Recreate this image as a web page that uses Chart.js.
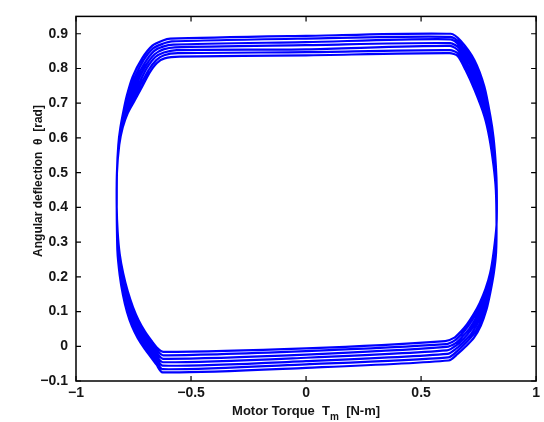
<!DOCTYPE html>
<html>
<head>
<meta charset="utf-8">
<script src="https://cdn.jsdelivr.net/npm/chart.js@4/dist/chart.umd.min.js"></script>
<style>
  html, body { margin: 0; padding: 0; background: #ffffff; }
  canvas { display: block; }
</style>
</head>
<body>
<canvas id="c" width="544" height="422"></canvas>
<script>
// Axis ticks and their printed labels
const xTicks = [-1, -0.5, 0, 0.5, 1];
const xTickLabels = ['\u22121', '\u22120.5', '0', '0.5', '1'];
const yTicks = [-0.1, 0, 0.1, 0.2, 0.3, 0.4, 0.5, 0.6, 0.7, 0.8, 0.9];
const yTickLabels = ['\u22120.1', '0', '0.1', '0.2', '0.3', '0.4', '0.5', '0.6', '0.7', '0.8', '0.9'];

// Successive cycles of the torque / deflection trajectory: [torque N-m, deflection rad]
const cycle1 = [[-0.823,0.40],[-0.822,0.50],[-0.816,0.58],[-0.807,0.63],[-0.793,0.680],[-0.779,0.722],[-0.754,0.776],[-0.712,0.830],[-0.668,0.866],[-0.625,0.880],[-0.590,0.886],[0,0.894],[0.629,0.900],[0.672,0.880],[0.732,0.824],[0.775,0.748],[0.801,0.663],[0.815,0.600],[0.825,0.520],[0.829,0.450],[0.828,0.350],[0.815,0.270],[0.800,0.210],[0.780,0.165],[0.755,0.125],[0.728,0.092],[0.700,0.064],[0.672,0.042],[0.645,0.025],[0.605,0.015],[0,-0.006],[-0.620,-0.016],[-0.645,-0.006],[-0.672,0.016],[-0.700,0.042],[-0.728,0.075],[-0.752,0.112],[-0.775,0.158],[-0.795,0.210],[-0.810,0.265],[-0.819,0.330]];
const cycle2 = [[-0.823,0.40],[-0.822,0.50],[-0.815,0.58],[-0.805,0.63],[-0.790,0.679],[-0.773,0.720],[-0.747,0.771],[-0.707,0.823],[-0.665,0.858],[-0.623,0.871],[-0.583,0.878],[0,0.886],[0.628,0.891],[0.670,0.872],[0.726,0.819],[0.768,0.746],[0.797,0.663],[0.812,0.600],[0.823,0.520],[0.828,0.450],[0.828,0.350],[0.817,0.270],[0.803,0.210],[0.784,0.163],[0.760,0.122],[0.733,0.087],[0.705,0.058],[0.676,0.035],[0.647,0.017],[0.608,0.006],[0,-0.014],[-0.621,-0.026],[-0.646,-0.014],[-0.673,0.009],[-0.701,0.034],[-0.729,0.067],[-0.753,0.103],[-0.776,0.148],[-0.795,0.200],[-0.810,0.255],[-0.819,0.321]];
const cycle3 = [[-0.823,0.40],[-0.822,0.50],[-0.815,0.58],[-0.804,0.63],[-0.787,0.677],[-0.768,0.717],[-0.740,0.767],[-0.701,0.816],[-0.661,0.850],[-0.622,0.863],[-0.577,0.869],[0,0.876],[0.627,0.884],[0.668,0.865],[0.719,0.815],[0.761,0.745],[0.792,0.663],[0.809,0.600],[0.822,0.520],[0.828,0.450],[0.828,0.350],[0.819,0.270],[0.805,0.210],[0.787,0.162],[0.765,0.118],[0.739,0.081],[0.710,0.051],[0.680,0.028],[0.650,0.009],[0.610,-0.002],[0,-0.024],[-0.621,-0.036],[-0.647,-0.022],[-0.674,0.001],[-0.702,0.027],[-0.729,0.058],[-0.754,0.094],[-0.776,0.138],[-0.795,0.189],[-0.810,0.245],[-0.819,0.312]];
const cycle4 = [[-0.823,0.40],[-0.822,0.50],[-0.814,0.58],[-0.802,0.63],[-0.784,0.676],[-0.762,0.715],[-0.733,0.762],[-0.696,0.809],[-0.658,0.841],[-0.620,0.855],[-0.570,0.861],[0,0.867],[0.627,0.873],[0.666,0.858],[0.713,0.810],[0.754,0.744],[0.788,0.663],[0.806,0.600],[0.820,0.520],[0.827,0.450],[0.828,0.350],[0.821,0.270],[0.808,0.210],[0.791,0.160],[0.770,0.115],[0.744,0.076],[0.715,0.045],[0.684,0.021],[0.652,0.002],[0.613,-0.012],[0,-0.033],[-0.622,-0.046],[-0.648,-0.030],[-0.675,-0.006],[-0.703,0.019],[-0.730,0.050],[-0.755,0.085],[-0.777,0.128],[-0.796,0.179],[-0.810,0.235],[-0.820,0.303]];
const cycle5 = [[-0.823,0.40],[-0.822,0.50],[-0.813,0.58],[-0.800,0.63],[-0.781,0.675],[-0.756,0.713],[-0.726,0.757],[-0.691,0.802],[-0.655,0.833],[-0.618,0.846],[-0.563,0.853],[0,0.855],[0.626,0.865],[0.663,0.851],[0.706,0.805],[0.746,0.742],[0.784,0.663],[0.803,0.600],[0.818,0.520],[0.826,0.450],[0.828,0.350],[0.822,0.270],[0.811,0.210],[0.794,0.158],[0.774,0.112],[0.749,0.071],[0.720,0.038],[0.687,0.014],[0.654,-0.006],[0.615,-0.022],[0,-0.043],[-0.623,-0.056],[-0.648,-0.037],[-0.676,-0.013],[-0.703,0.011],[-0.731,0.041],[-0.755,0.076],[-0.777,0.118],[-0.796,0.169],[-0.810,0.225],[-0.820,0.293]];
const cycle6 = [[-0.823,0.40],[-0.822,0.50],[-0.813,0.58],[-0.799,0.63],[-0.778,0.673],[-0.751,0.710],[-0.719,0.753],[-0.685,0.795],[-0.651,0.824],[-0.617,0.838],[-0.557,0.844],[0,0.847],[0.625,0.853],[0.661,0.843],[0.700,0.801],[0.739,0.741],[0.779,0.663],[0.800,0.600],[0.817,0.520],[0.826,0.450],[0.828,0.350],[0.824,0.270],[0.813,0.210],[0.798,0.157],[0.779,0.108],[0.755,0.065],[0.725,0.032],[0.691,0.007],[0.657,-0.014],[0.618,-0.032],[0,-0.052],[-0.623,-0.066],[-0.649,-0.045],[-0.677,-0.021],[-0.704,0.004],[-0.731,0.033],[-0.756,0.067],[-0.778,0.108],[-0.796,0.158],[-0.810,0.215],[-0.820,0.284]];
const cycle7 = [[-0.823,0.40],[-0.822,0.50],[-0.812,0.58],[-0.797,0.63],[-0.775,0.672],[-0.745,0.708],[-0.712,0.748],[-0.680,0.788],[-0.648,0.816],[-0.615,0.829],[-0.550,0.834],[0,0.838],[0.624,0.844],[0.659,0.836],[0.693,0.796],[0.732,0.739],[0.775,0.663],[0.797,0.600],[0.815,0.520],[0.825,0.450],[0.828,0.350],[0.826,0.270],[0.816,0.210],[0.801,0.155],[0.784,0.105],[0.760,0.060],[0.730,0.025],[0.695,0.000],[0.659,-0.022],[0.620,-0.041],[0,-0.062],[-0.624,-0.075],[-0.650,-0.053],[-0.678,-0.028],[-0.705,-0.004],[-0.732,0.024],[-0.757,0.058],[-0.778,0.098],[-0.796,0.148],[-0.810,0.205],[-0.820,0.275],[-0.823,0.40]];

const cycles = [cycle1, cycle2, cycle3, cycle4, cycle5, cycle6, cycle7];
const trajectory = [];
cycles.forEach(c => c.forEach(([x, y]) => trajectory.push({ x, y })));

const FONT = '"Liberation Sans", Arial, Helvetica, sans-serif';
const TEXT = '#151515';

// Box outline, inward tick marks on all four sides, and axis titles
const matlabFrame = {
  id: 'matlabFrame',
  afterDraw(chart) {
    const { ctx, chartArea: a, scales: { x, y } } = chart;
    ctx.save();
    ctx.strokeStyle = '#000';
    ctx.lineWidth = 1.5;
    ctx.strokeRect(a.left, a.top, a.right - a.left, a.bottom - a.top);

    const t = 5;
    ctx.lineWidth = 1.2;
    ctx.beginPath();
    xTicks.forEach(v => {
      const px = x.getPixelForValue(v);
      ctx.moveTo(px, a.bottom); ctx.lineTo(px, a.bottom - t);
      ctx.moveTo(px, a.top); ctx.lineTo(px, a.top + t);
    });
    yTicks.forEach(v => {
      const py = y.getPixelForValue(v);
      ctx.moveTo(a.left, py); ctx.lineTo(a.left + t, py);
      ctx.moveTo(a.right, py); ctx.lineTo(a.right - t, py);
    });
    ctx.stroke();

    // x-axis title with subscript
    ctx.fillStyle = TEXT;
    ctx.textBaseline = 'alphabetic';
    ctx.textAlign = 'left';
    const mainFont = 'bold 13px ' + FONT;
    const subFont = 'bold 10px ' + FONT;
    const p1 = 'Motor Torque  T', p2 = 'm', p3 = '  [N-m]';
    ctx.font = mainFont;
    const w1 = ctx.measureText(p1).width, w3 = ctx.measureText(p3).width;
    ctx.font = subFont;
    const w2 = ctx.measureText(p2).width;
    const total = w1 + w2 + w3;
    let cx = (a.left + a.right) / 2 - total / 2;
    const base = 415;
    ctx.font = mainFont; ctx.fillText(p1, cx, base); cx += w1;
    ctx.font = subFont; ctx.fillText(p2, cx, base + 5); cx += w2;
    ctx.font = mainFont; ctx.fillText(p3, cx, base);

    // y-axis title
    ctx.save();
    ctx.translate(42, 181);
    ctx.rotate(-Math.PI / 2);
    ctx.textAlign = 'center';
    ctx.font = 'bold 12px ' + FONT;
    ctx.fillText('Angular deflection  \u03b8  [rad]', 0, 0);
    ctx.restore();

    ctx.restore();
  }
};

new Chart(document.getElementById('c'), {
  type: 'scatter',
  data: {
    datasets: [{
      data: trajectory,
      showLine: true,
      borderColor: '#0000ff',
      borderWidth: 2.2,
      pointRadius: 0,
      tension: 0.25,
      fill: false
    }]
  },
  options: {
    responsive: false,
    animation: false,
    layout: { padding: { top: 5, right: 5, left: 0, bottom: 0 } },
    plugins: { legend: { display: false }, tooltip: { enabled: false } },
    scales: {
      x: {
        type: 'linear', min: -1, max: 1,
        grid: { display: false, drawTicks: false },
        border: { display: false },
        afterBuildTicks: s => { s.ticks = xTicks.map(v => ({ value: v })); },
        afterFit: s => { s.height = 41; },
        ticks: {
          padding: 4,
          color: TEXT,
          font: { family: FONT, size: 14, weight: 'bold' },
          maxRotation: 0,
          callback: (v, i) => xTickLabels[i]
        }
      },
      y: {
        type: 'linear', min: -0.1, max: 0.95,
        grid: { display: false, drawTicks: false },
        border: { display: false },
        afterBuildTicks: s => { s.ticks = yTicks.map(v => ({ value: v })); },
        afterFit: s => { s.width = 76; },
        ticks: {
          padding: 8,
          color: TEXT,
          font: { family: FONT, size: 14, weight: 'bold' },
          callback: (v, i) => yTickLabels[i]
        }
      }
    }
  },
  plugins: [matlabFrame]
});
</script>
</body>
</html>
